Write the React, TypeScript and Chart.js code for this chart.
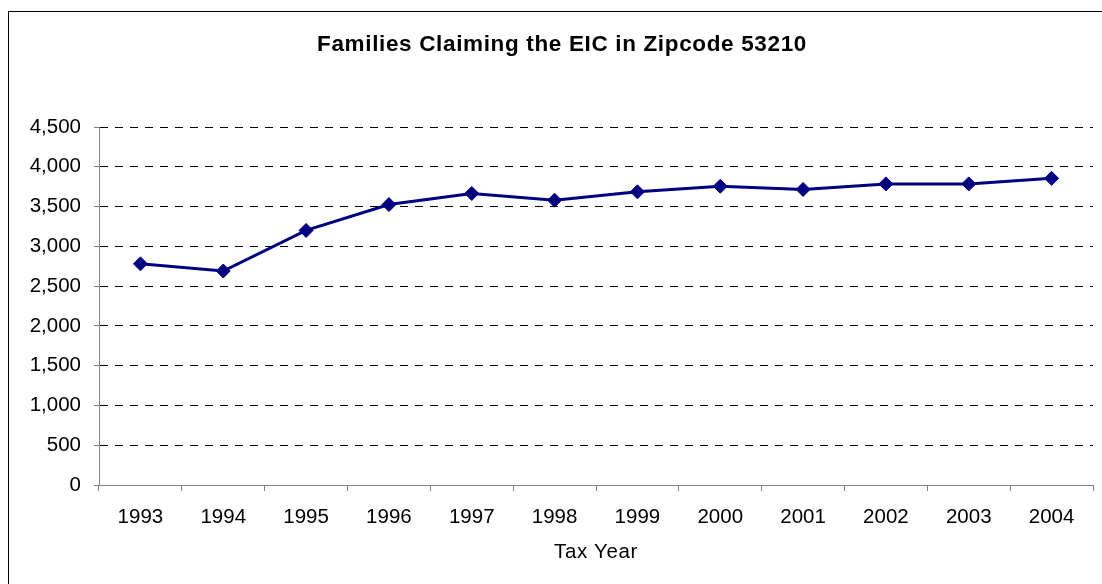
import React, { useEffect, useRef } from 'react';
import { Chart, registerables } from 'chart.js';

Chart.register(...registerables);

const years = ['1993', '1994', '1995', '1996', '1997', '1998', '1999', '2000', '2001', '2002', '2003', '2004'];
const families = [2780, 2690, 3200, 3525, 3665, 3580, 3685, 3755, 3715, 3785, 3785, 3855];
const yMin = 0;
const yMax = 4500;
const yStep = 500;
const chartTitle = 'Families Claiming the EIC in Zipcode 53210';
const xAxisTitle = 'Tax Year';

const FONT = '"Liberation Sans", Arial, sans-serif';

export default function App() {
  const ref = useRef<HTMLCanvasElement>(null);

  useEffect(() => {
    if (!ref.current) return;
    const textPlugin = {
      id: 'customTexts',
      afterDraw(chart: any) {
        const { ctx, chartArea } = chart;
        ctx.save();
        ctx.fillStyle = '#000';
        ctx.textAlign = 'center';
        ctx.textBaseline = 'alphabetic';
        ctx.font = `bold 22.5px ${FONT}`;
        (ctx as any).letterSpacing = '0.65px';
        ctx.fillText(chartTitle, 562, 51);
        ctx.font = `20.5px ${FONT}`;
        (ctx as any).letterSpacing = '0.6px';
        ctx.fillText(xAxisTitle, (chartArea.left + chartArea.right) / 2, 558);
        ctx.restore();
      },
    };

    const chart = new Chart(ref.current, {
      type: 'line',
      data: {
        labels: years,
        datasets: [
          {
            data: families,
            borderColor: '#000080',
            backgroundColor: '#000080',
            borderWidth: 3,
            pointStyle: 'rectRot',
            pointRadius: 7,
            pointBorderWidth: 1,
            pointBackgroundColor: '#000080',
            pointBorderColor: '#000080',
            tension: 0,
            fill: false,
          },
        ],
      },
      options: {
        animation: false,
        responsive: false,
        maintainAspectRatio: false,
        layout: { padding: { top: 127, right: 9, left: 0, bottom: 0 } },
        plugins: {
          legend: { display: false },
          title: { display: false },
          tooltip: { enabled: false },
        },
        scales: {
          x: {
            type: 'category',
            offset: true,
            afterFit(scale: any) {
              scale.height = 99;
            },
            grid: {
              display: true,
              offset: true,
              drawOnChartArea: false,
              drawTicks: true,
              tickLength: 6,
              tickColor: '#808080',
              tickWidth: 1,
            },
            border: { display: true, color: '#808080', width: 1 },
            ticks: {
              color: '#000',
              font: { family: FONT, size: 20.5 },
              padding: 14,
              maxRotation: 0,
              autoSkip: false,
            },
          },
          y: {
            min: yMin,
            max: yMax,
            afterFit(scale: any) {
              scale.width = 99;
            },
            ticks: {
              stepSize: yStep,
              color: '#000',
              font: { family: FONT, size: 20.5 },
              padding: 13,
              callback: (v: any) => Number(v).toLocaleString('en-US'),
            },
            grid: {
              color: (c: any) => (c.tick && c.tick.value === 0 ? 'rgba(0,0,0,0)' : '#000'),
              lineWidth: 1,
              drawTicks: true,
              tickLength: 5,
              tickColor: '#808080',
              tickBorderDash: [],
            },
            border: { display: true, color: '#808080', width: 1, dash: [8, 7] },
          },
        },
      },
      plugins: [textPlugin],
    });
    return () => chart.destroy();
  }, []);

  return (
    <div style={{ position: 'fixed', left: 0, top: 0, width: 1102, height: 584, overflow: 'hidden', background: '#fff' }}>
      <div
        style={{
          position: 'absolute',
          left: 8,
          top: 11,
          width: 1300,
          height: 800,
          border: '1px solid #000',
          boxSizing: 'border-box',
        }}
      />
      <canvas
        ref={ref}
        width={1102}
        height={584}
        style={{ position: 'absolute', left: 0, top: 0, width: 1102, height: 584 }}
      />
    </div>
  );
}
